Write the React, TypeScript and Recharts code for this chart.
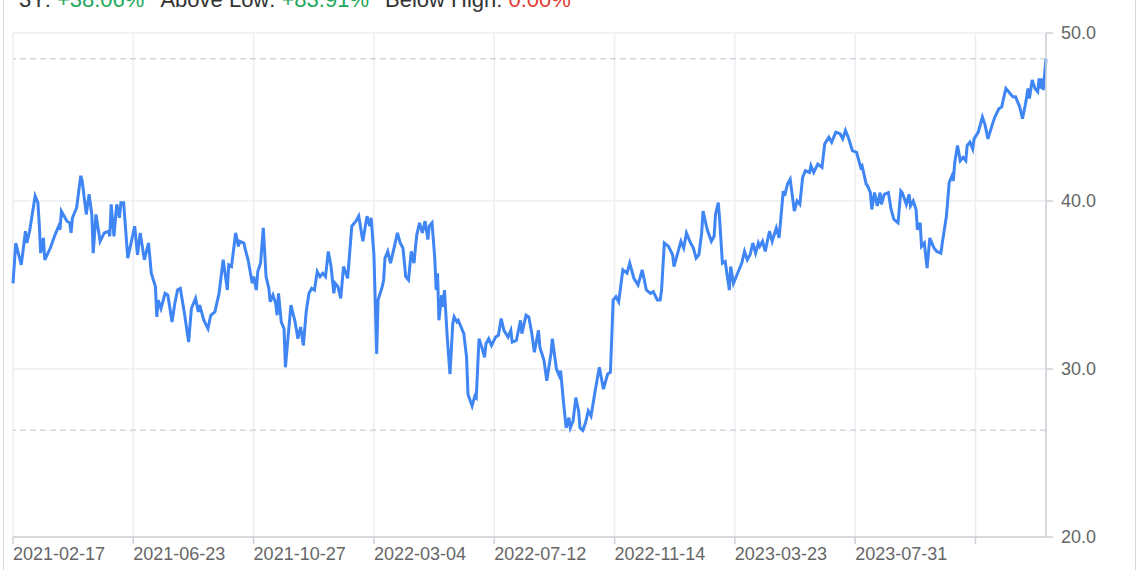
import { LineChart, Line, XAxis, YAxis, CartesianGrid, ReferenceLine } from 'recharts';

// trading-session index (0 = 2021-02-17) and closing price
const sessions = [
  0, 2, 6, 9, 10, 12, 16, 18, 19, 20, 22, 23, 27, 30, 33, 34, 35, 39, 41, 42,
  43, 46, 49, 50, 53, 55, 57, 58, 60, 63, 66, 69, 70, 71, 73, 75, 77, 78, 80, 81,
  83, 88, 90, 92, 95, 98, 100, 103, 104, 105, 107, 110, 112, 115, 117, 119, 121, 124, 127, 129,
  132, 134, 135, 138, 141, 143, 146, 149, 152, 155, 156, 158, 161, 163, 164, 167, 168, 170, 173, 174,
  176, 177, 179, 181, 183, 185, 186, 188, 190, 191, 192, 194, 196, 197, 199, 201, 204, 206, 208, 210,
  212, 214, 216, 218, 220, 222, 224, 226, 228, 230, 232, 233, 235, 237, 239, 242, 245, 248, 250, 253,
  256, 258, 259, 261, 263, 264, 267, 268, 269, 271, 273, 275, 278, 280, 282, 284, 286, 288, 290, 291,
  292, 294, 296, 298, 300, 301, 303, 305, 306, 307, 308, 310, 311, 312, 314, 316, 318, 319, 321, 322,
  324, 326, 328, 329, 332, 334, 335, 337, 339, 341, 342, 344, 346, 349, 351, 353, 355, 358, 360, 361,
  364, 367, 368, 371, 373, 375, 377, 380, 381, 384, 386, 389, 390, 393, 395, 396, 398, 400, 402, 403,
  405, 407, 409, 410, 412, 414, 416, 418, 421, 424, 427, 430, 432, 434, 436, 438, 441, 444, 446, 449,
  452, 455, 458, 461, 463, 466, 468, 469, 471, 474, 477, 478, 481, 483, 485, 487, 490, 492, 494, 496,
  498, 499, 502, 505, 507, 508, 510, 511, 513, 515, 518, 519, 521, 524, 527, 529, 531, 533, 535, 537,
  539, 540, 542, 544, 547, 549, 552, 554, 557, 558, 560, 562, 565, 567, 569, 571, 573, 576, 577, 579,
  582, 585, 587, 590, 592, 595, 598, 600, 602, 604, 607, 610, 613, 614, 617, 618, 620, 621, 623, 625,
  627, 628, 630, 633, 635, 637, 640, 642, 643, 646, 648, 649, 651, 653, 654, 656, 657, 659, 661, 663,
  666, 668, 671, 672, 675, 677, 679, 680, 681, 683, 685, 687, 689, 690, 692, 694, 695, 698, 701, 703,
  705, 708, 710, 713, 715, 716, 718, 720, 723, 725, 728, 730, 732, 734, 735, 737, 739, 741, 742, 743,
  744, 745, 747,
];

const closes = [
  35.1, 37.5, 36.2, 38.2, 37.5, 38.2, 40.3, 39.9, 38.6, 36.9, 37.8, 36.5, 37.2, 37.9, 38.5, 38.3, 39.4, 38.8, 38.7, 38.1,
  39.0, 39.6, 41.5, 41.2, 39.2, 40.4, 39.2, 36.9, 39.2, 37.6, 38.1, 38.2, 37.9, 39.8, 37.9, 39.8, 39.0, 39.9, 39.9, 38.8,
  36.6, 38.5, 36.8, 38.1, 36.5, 37.5, 35.7, 34.9, 33.1, 34.1, 33.6, 34.5, 34.4, 32.8, 33.9, 34.7, 34.8, 33.3, 31.6, 33.6,
  34.2, 33.4, 33.8, 32.9, 32.4, 33.2, 33.4, 34.5, 36.5, 34.7, 36.2, 36.1, 38.1, 37.3, 37.6, 37.5, 37.1, 36.5, 35.1, 35.5,
  34.7, 35.8, 36.3, 38.4, 35.5, 34.8, 34.0, 34.4, 33.9, 33.2, 34.5, 32.8, 32.4, 30.1, 32.0, 33.8, 32.8, 31.8, 32.5, 31.4,
  33.4, 34.5, 34.8, 34.7, 35.8, 35.5, 35.7, 35.5, 37.0, 36.1, 34.5, 35.1, 34.9, 34.2, 36.1, 35.4, 38.5, 38.8, 39.1, 37.6,
  39.1, 38.5, 39.0, 36.8, 30.9, 34.1, 34.9, 35.3, 36.6, 37.0, 36.3, 37.0, 38.1, 37.5, 37.2, 35.5, 35.3, 37.0, 36.3, 37.2,
  38.0, 38.7, 38.1, 38.8, 37.7, 38.5, 38.7, 36.6, 34.7, 35.7, 32.9, 34.4, 33.7, 34.7, 31.9, 29.7, 32.7, 33.1, 32.8, 32.9,
  32.5, 32.1, 30.7, 28.5, 27.8, 28.4, 28.3, 31.8, 31.3, 30.7, 31.5, 31.8, 31.4, 31.9, 32.0, 33.0, 32.3, 31.9, 32.3, 31.6,
  31.7, 32.9, 32.1, 33.2, 33.1, 32.2, 31.0, 32.3, 31.3, 30.5, 29.3, 30.9, 31.8, 30.0, 29.6, 29.9, 28.1, 26.5, 27.1, 26.5,
  26.9, 28.3, 27.5, 26.5, 26.35, 26.8, 27.5, 27.2, 28.7, 30.1, 28.8, 29.7, 29.8, 34.1, 34.3, 34.0, 35.9, 35.7, 36.3, 35.4,
  35.0, 35.9, 34.7, 34.5, 34.6, 34.1, 34.1, 34.7, 37.5, 37.3, 36.8, 36.1, 37.0, 37.6, 37.2, 38.1, 37.5, 37.2, 36.6, 36.8,
  38.1, 39.4, 38.3, 37.6, 37.9, 39.2, 39.9, 38.9, 36.3, 36.4, 34.7, 36.1, 35.1, 35.7, 36.3, 37.0, 36.5, 36.8, 37.5, 36.9,
  37.5, 37.3, 37.6, 37.0, 38.2, 37.6, 38.4, 37.8, 40.6, 40.3, 41.0, 41.3, 39.4, 40.0, 39.8, 41.4, 41.8, 41.7, 42.1, 41.7,
  42.2, 42.0, 43.4, 43.8, 43.5, 44.1, 44.0, 43.7, 44.2, 43.8, 43.0, 42.9, 42.0, 42.1, 41.0, 40.9, 40.5, 39.5, 40.5, 39.7,
  40.5, 39.8, 40.4, 40.5, 39.5, 38.9, 38.7, 40.6, 40.5, 39.8, 40.4, 39.7, 40.0, 39.5, 38.3, 38.7, 37.3, 37.5, 36.0, 37.8,
  37.2, 37.0, 36.9, 37.5, 39.1, 41.1, 41.5, 41.2, 42.3, 43.3, 42.4, 42.6, 42.4, 43.3, 43.5, 43.1, 43.7, 44.1, 45.0, 44.5,
  43.7, 44.5, 45.0, 45.5, 45.6, 46.0, 46.7, 46.5, 46.2, 46.2, 45.6, 44.9, 45.7, 46.7, 46.1, 47.2, 46.7, 46.5, 47.3, 46.7,
  47.3, 46.6, 48.46,
];

const tickSessions = [0, 87, 174, 261, 348, 435, 522, 609, 696];
const tickLabels = [
  '2021-02-17', '2021-06-23', '2021-10-27', '2022-03-04', '2022-07-12',
  '2022-11-14', '2023-03-23', '2023-07-31', '',
];
const priceTicks = [20, 30, 40, 50];

const LOW = 26.35;
const HIGH = 48.46;

const stats = [
  { label: '3Y:', value: '+38.06%', color: '#1ea85a' },
  { label: 'Above Low:', value: '+83.91%', color: '#1ea85a' },
  { label: 'Below High:', value: '0.00%', color: '#e03c31' },
];

const data = sessions.map((s, i) => ({ s, close: closes[i] }));

const FONT = '"Liberation Sans", Arial, sans-serif';
const AXIS = '#cdd0d6';
const GRID = '#eceef3';

const DateTick = ({ x, y, payload }: any) => {
  const label = tickLabels[tickSessions.indexOf(payload.value)] ?? '';
  return (
    <text x={x} y={y} dy="0.71em" textAnchor="start" fill="#666" fontSize={18} fontFamily={FONT}>
      {label}
    </text>
  );
};

const App = () => {
  return (
    <div style={{ position: 'absolute', top: 0, left: 0, width: 1140, height: 570, overflow: 'hidden', fontFamily: FONT, background: '#fff' }}>
      <div
        style={{
          position: 'absolute', left: 3, top: -30, width: 1133, height: 640,
          border: '1px solid #d6d6d6', borderRadius: 6, boxSizing: 'border-box',
        }}
      />
      <div style={{ position: 'absolute', left: 19, top: -13, fontSize: 22, lineHeight: '26px', color: '#333', whiteSpace: 'nowrap' }}>
        {stats.map((st) => (
          <span key={st.label} style={{ marginRight: 16 }}>
            {st.label} <span style={{ color: st.color }}>{st.value}</span>
          </span>
        ))}
      </div>
      <div style={{ position: 'absolute', left: 0, top: 0 }}>
        <LineChart width={1140} height={570} data={data} margin={{ top: 33, right: 4, bottom: 3, left: 13 }}>
          <CartesianGrid stroke={GRID} strokeWidth={1.5} />
          <XAxis
            dataKey="s"
            type="number"
            domain={[0, 747]}
            ticks={tickSessions}
            interval={0}
            height={30}
            tick={<DateTick />}
            tickSize={7}
            tickMargin={3}
            axisLine={{ stroke: AXIS, strokeWidth: 1.5 }}
            tickLine={{ stroke: AXIS, strokeWidth: 1.5 }}
          />
          <YAxis
            orientation="right"
            width={90}
            domain={[20, 50]}
            ticks={priceTicks}
            interval={0}
            tickFormatter={(v: number) => v.toFixed(1)}
            tick={{ fill: '#666', fontSize: 18 }}
            tickSize={7}
            tickMargin={8}
            axisLine={{ stroke: AXIS, strokeWidth: 1.5 }}
            tickLine={{ stroke: AXIS, strokeWidth: 1.5 }}
          />
          <ReferenceLine y={HIGH} stroke="#d3d6dc" strokeWidth={1.5} strokeDasharray="6 4" />
          <ReferenceLine y={LOW} stroke="#d3d6dc" strokeWidth={1.5} strokeDasharray="6 4" />
          <Line
            type="linear"
            dataKey="close"
            stroke="#3f86f4"
            strokeWidth={3}
            dot={false}
            activeDot={false}
            isAnimationActive={false}
          />
        </LineChart>
      </div>
    </div>
  );
};

export default App;
